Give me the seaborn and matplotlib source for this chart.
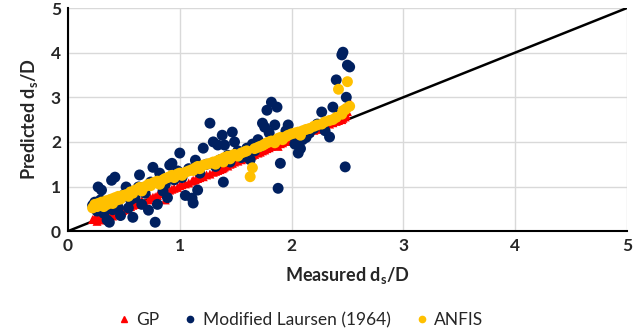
import pandas as pd
import seaborn as sns
import matplotlib.pyplot as plt

# measured ds/D and the three predictions
measured = [0.22, 0.24, 0.26, 0.27, 0.29, 0.30, 0.32, 0.34, 0.35, 0.37,
            0.39, 0.40, 0.42, 0.44, 0.45, 0.47, 0.49, 0.52, 0.54, 0.56,
            0.58, 0.60, 0.63, 0.64, 0.66, 0.69, 0.72, 0.74, 0.76, 0.78,
            0.80, 0.82, 0.85, 0.87, 0.89, 0.91, 0.93, 0.95, 0.98, 1.00,
            1.02, 1.05, 1.08, 1.11, 1.12, 1.14, 1.16, 1.18, 1.21, 1.24,
            1.27, 1.30, 1.32, 1.34, 1.36, 1.38, 1.39, 1.40, 1.43, 1.45,
            1.47, 1.49, 1.52, 1.55, 1.58, 1.60, 1.63, 1.65, 1.67, 1.70,
            1.72, 1.74, 1.76, 1.78, 1.80, 1.82, 1.85, 1.87, 1.88, 1.90,
            1.92, 1.95, 1.97, 2.00, 2.03, 2.06, 2.08, 2.10, 2.13, 2.16,
            2.20, 2.23, 2.27, 2.30, 2.34, 2.37, 2.40, 2.42, 2.45, 2.46,
            2.48, 2.49, 2.50, 2.52]

gp = [0.26, 0.30, 0.22, 0.32, 0.25, 0.34, 0.28, 0.36, 0.30, 0.38,
      0.40, 0.34, 0.42, 0.45, 0.40, 0.48, 0.46, 0.52, 0.48, 0.55,
      0.58, 0.60, 0.63, 0.60, 0.68, 0.63, 0.70, 0.74, 0.76, 0.77,
      0.80, 0.84, 0.86, 0.70, 0.88, 0.92, 0.94, 0.96, 0.98, 1.02,
      1.04, 1.06, 1.08, 1.12, 1.14, 1.15, 1.18, 1.20, 1.22, 1.26,
      1.28, 1.32, 1.34, 1.36, 1.38, 1.40, 1.42, 1.44, 1.46, 1.50,
      1.52, 1.55, 1.57, 1.60, 1.62, 1.65, 1.67, 1.70, 1.72, 1.75,
      1.77, 1.80, 1.82, 1.85, 1.87, 1.90, 1.92, 1.94, 1.90, 1.96,
      1.98, 2.01, 2.04, 2.06, 2.08, 2.12, 2.15, 2.17, 2.20, 2.22,
      2.26, 2.28, 2.32, 2.36, 2.40, 2.43, 2.46, 2.48, 2.50, 2.53,
      2.56, 2.60, 2.68, 2.90]

laursen = [0.58, 0.65, 0.45, 0.99, 0.70, 0.92, 0.40, 0.55, 0.25, 0.20,
           1.14, 0.48, 1.21, 0.62, 0.52, 0.35, 0.80, 0.99, 0.52, 0.70,
           0.31, 0.75, 0.99, 1.26, 0.60, 0.85, 0.47, 1.10, 1.43, 0.20,
           0.60, 1.30, 0.90, 1.05, 0.75, 1.48, 1.52, 1.15, 1.35, 1.75,
           1.20, 0.80, 1.40, 0.74, 0.63, 1.59, 0.92, 1.30, 1.86, 1.50,
           2.42, 2.00, 1.45, 1.93, 1.60, 2.15, 1.10, 1.93, 1.70, 1.55,
           2.22, 2.00, 1.80, 1.65, 1.75, 1.86, 1.60, 1.95, 1.80, 2.05,
           1.90, 2.42, 2.33, 2.71, 2.20, 2.89, 2.38, 2.78, 0.96, 1.52,
           2.10, 2.25, 2.38, 2.15, 1.95, 1.75, 1.85, 2.05, 2.10, 2.20,
           2.30, 2.40, 2.67, 2.25, 2.11, 2.78, 3.39, 2.60, 3.95, 4.01,
           1.44, 3.00, 3.72, 3.68]

anfis = [0.52, 0.60, 0.55, 0.62, 0.58, 0.65, 0.55, 0.68, 0.60, 0.70,
         0.72, 0.62, 0.75, 0.70, 0.78, 0.72, 0.80, 0.82, 0.78, 0.88,
         0.85, 0.92, 0.95, 0.98, 0.90, 1.00, 1.05, 1.02, 1.08, 1.10,
         1.12, 1.05, 1.15, 1.18, 1.20, 1.22, 1.25, 1.20, 1.28, 1.30,
         1.25, 1.32, 1.35, 1.38, 1.36, 1.42, 1.45, 1.40, 1.48, 1.50,
         1.52, 1.55, 1.50, 1.58, 1.60, 1.62, 1.55, 1.65, 1.68, 1.62,
         1.70, 1.72, 1.68, 1.75, 1.78, 1.80, 1.22, 1.42, 1.85, 1.88,
         1.90, 1.92, 1.95, 1.98, 2.00, 2.02, 1.98, 2.05, 2.08, 2.10,
         2.05, 2.12, 2.15, 2.18, 2.20, 2.22, 2.15, 2.25, 2.28, 2.30,
         2.35, 2.38, 2.40, 2.45, 2.48, 2.50, 2.55, 3.18, 2.62, 2.70,
         2.72, 2.75, 3.35, 2.80]

series_names = ["GP", "Modified Laursen (1964)", "ANFIS"]
series_colors = ["#FF0000", "#002060", "#FFC000"]
series_markers = ["^", "o", "o"]
ticks = [0, 1, 2, 3, 4, 5]

df = pd.DataFrame({"measured": measured, "GP": gp,
                   "Modified Laursen (1964)": laursen, "ANFIS": anfis})
long_df = df.melt(id_vars="measured", var_name="model", value_name="predicted")

sns.set_style("white")
plt.rcParams["font.family"] = ["Lato", "DejaVu Sans"]
plt.rcParams["mathtext.fontset"] = "custom"
plt.rcParams["mathtext.rm"] = "Lato"
plt.rcParams["mathtext.bf"] = "Lato:bold"

fig = plt.figure(figsize=(6.39, 3.35), dpi=100)
ax = fig.add_axes([0.1064, 0.310, 0.8746, 0.666])

# 1:1 line
ax.plot([0, 5], [0, 5], color="black", lw=1.8, zorder=2)

sizes = {"GP": 42, "Modified Laursen (1964)": 62, "ANFIS": 62}
for name, col, mk in zip(series_names, series_colors, series_markers):
    sub = long_df[long_df["model"] == name]
    sns.scatterplot(data=sub, x="measured", y="predicted", ax=ax, color=col,
                    marker=mk, s=sizes[name], edgecolor="none", label=name,
                    zorder=3, legend=False)

ax.set_xlim(0, 5)
ax.set_ylim(0, 5)
ax.set_xticks(ticks)
ax.set_yticks(ticks)
ax.grid(True, color="#D9D9D9", lw=1)
ax.set_axisbelow(True)
for side in ["top", "right"]:
    ax.spines[side].set_visible(False)
for side in ["left", "bottom"]:
    ax.spines[side].set_color("black")
    ax.spines[side].set_linewidth(1.5)
ax.tick_params(length=0, labelsize=12.5, pad=5)
for lbl in ax.get_xticklabels() + ax.get_yticklabels():
    lbl.set_fontweight("bold")

ax.set_xlabel(r"Measured d$_\mathbf{s}$/D", fontsize=13, fontweight="bold", labelpad=8)
ax.set_ylabel(r"Predicted d$_\mathbf{s}$/D", fontsize=13, fontweight="bold", labelpad=8)

handles = [plt.Line2D([], [], ls="", marker=mk, color=col, markersize=4.5)
           for col, mk in zip(series_colors, series_markers)]
fig.legend(handles, series_names, loc="center", bbox_to_anchor=(0.468, 0.045),
           ncol=3, frameon=False, fontsize=12.5, handletextpad=0.2,
           columnspacing=1.3, handlelength=1.0)

plt.savefig("out.png", dpi=100)
